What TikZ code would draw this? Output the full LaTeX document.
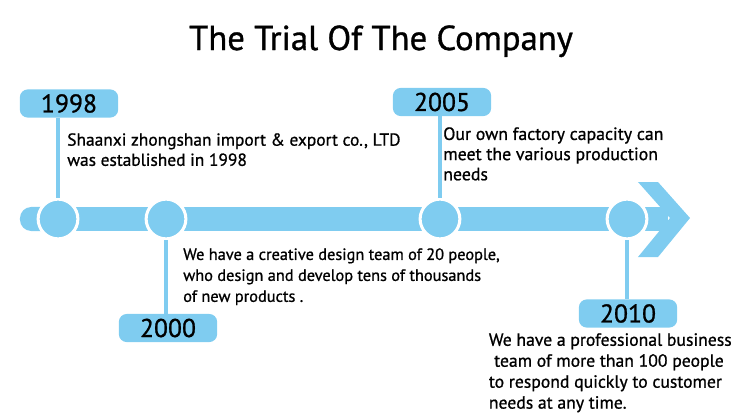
\documentclass[tikz,border=0pt]{standalone}
\usepackage{fontspec}
\setmainfont{PT Sans}[FakeBold=0.9]
\usepackage{xcolor}
\usetikzlibrary{positioning}

\definecolor{skyblue}{RGB}{127,204,240}

\begin{document}
\begin{tikzpicture}[
        year/.style={rectangle, rounded corners=0.21cm, fill=skyblue, minimum width=2.62cm, minimum height=0.75cm, inner sep=0pt, font=\fontsize{19.5pt}{20pt}\selectfont},
        dot/.style={circle, fill=skyblue, draw=white, line width=2.3pt, minimum size=1.06cm, inner sep=0pt},
        note/.style={anchor=north west, align=left, inner sep=0pt},
        stem/.style={draw=skyblue, line width=2.3pt}
    ]
        \useasboundingbox (0, 0) rectangle (20, 11.147);

        % Title
        \node[anchor=base, inner sep=0pt, font=\fontsize{26.3pt}{30pt}\selectfont] (title) at (10.16, 9.813) {The Trial Of The Company};

        % Time line with arrow head
        \fill[skyblue, rounded corners=0.3cm] (0.533, 4.987) rectangle (2, 5.627);
        \fill[skyblue] (1, 4.987) rectangle (17.8, 5.627);
        \fill[skyblue] (17.013, 6.293) -- (17.547, 6.293) -- (18.4, 5.333) -- (17.547, 4.293) -- (17.013, 4.293) -- (17.867, 5.333) -- cycle;

        % Dots
        \node[dot] (c1) at (1.547, 5.307) {};
        \node[dot] (c2) at (4.427, 5.307) {};
        \node[dot] (c3) at (11.733, 5.307) {};
        \node[dot] (c4) at (16.72, 5.307) {};

        % Years
        \node[year] (y1998) at (1.84, 8.387) {1998};
        \node[year] (y2000) at (4.48, 2.4) {2000};
        \node[year] (y2005) at (11.787, 8.427) {2005};
        \node[year] (y2010) at (16.747, 2.787) {2010};

        % Stems
        \draw[stem] (c1) -- (c1 |- y1998.south);
        \draw[stem] (c2) -- (c2 |- y2000.north);
        \draw[stem] (c3) -- (c3 |- y2005.south);
        \draw[stem] (c4) -- (c4 |- y2010.north);

        % Notes
        \node[note, font=\fontsize{13.2pt}{15.3pt}\selectfont] (t1998) at (1.787, 7.6) {Shaanxi zhongshan import \& export co., LTD\\was established in 1998};
        \node[note, font=\fontsize{12.4pt}{15.9pt}\selectfont] (t2000) at (4.88, 4.533) {We have a creative design team of 20 people,\\who design and develop tens of thousands\\of new products .};
        \node[note, font=\fontsize{13.5pt}{15.3pt}\selectfont] (t2005) at (11.813, 7.76) {Our own factory capacity can\\meet the various production\\needs};
        \node[note, font=\fontsize{13.4pt}{15.9pt}\selectfont] (t2010) at (13.03, 2.267) {We have a professional business\\\hspace{0.3em}team of more than 100 people\\to respond quickly to customer\\needs at any time.};
    \end{tikzpicture}
\end{document}
